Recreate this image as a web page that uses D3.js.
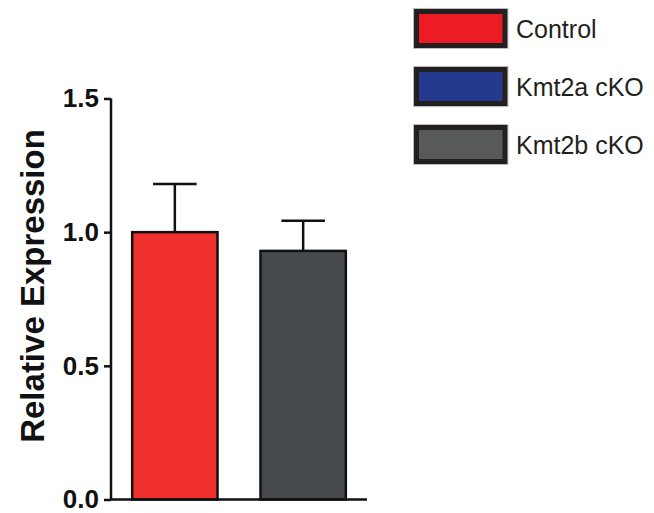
<!DOCTYPE html>
<html>
<head>
<meta charset="utf-8">
<script src="https://cdn.jsdelivr.net/npm/d3@7"></script>
<style>
  html, body { margin: 0; padding: 0; background: #fff; }
  svg { display: block; }
</style>
</head>
<body>
<svg id="chart" width="654" height="513"></svg>
<script>
// ---- data ----
const categories = ["Control", "Kmt2b cKO"];
const values = [1.0, 0.93];
const errors = [0.18, 0.113];
const barColors = ["#ee2f2c", "#464a4d"];
const legendLabels = ["Control", "Kmt2a cKO", "Kmt2b cKO"];
const legendColors = ["#ed1c24", "#253a8e", "#58595b"];
const yTicks = [0, 0.5, 1.0, 1.5];
const yTitle = "Relative Expression";

const svg = d3.select("#chart");

const x0 = 111, x1 = 367, yBottom = 499.5, yTop = 98.5;

const x = d3.scaleBand()
  .domain(categories)
  .range([x0, x1])
  .paddingInner(0.335)
  .paddingOuter(0.165);

const y = d3.scaleLinear().domain([0, 1.5]).range([yBottom, yTop]);

// bars
const data = categories.map((c, i) => ({ c, v: values[i], e: errors[i], col: barColors[i] }));

// error bars (drawn first so bar top covers the stem base)
const eb = svg.append("g").attr("stroke", "#111").attr("stroke-width", 2.5);
data.forEach(d => {
  const cx = x(d.c) + x.bandwidth() / 2;
  const capHalf = x.bandwidth() * 0.255;
  eb.append("line").attr("x1", cx).attr("x2", cx).attr("y1", y(d.v)).attr("y2", y(d.v + d.e));
  eb.append("line").attr("x1", cx - capHalf).attr("x2", cx + capHalf).attr("y1", y(d.v + d.e)).attr("y2", y(d.v + d.e));
});

svg.append("g").selectAll("rect").data(data).join("rect")
  .attr("x", d => x(d.c))
  .attr("width", x.bandwidth())
  .attr("y", d => y(d.v))
  .attr("height", d => y(0) - y(d.v))
  .attr("fill", d => d.col)
  .attr("stroke", "#111")
  .attr("stroke-width", 2.5);

// y axis
const yAxis = d3.axisLeft(y).tickValues(yTicks).tickFormat(d3.format(".1f")).tickSize(7).tickPadding(5);
const gy = svg.append("g").attr("transform", `translate(${x0},0)`).call(yAxis);
gy.select(".domain").attr("stroke", "#111").attr("stroke-width", 2.5).attr("d", `M0,${yTop}V${yBottom}`);
gy.selectAll(".tick line").attr("stroke", "#111").attr("stroke-width", 2.5);
gy.selectAll(".tick text")
  .attr("fill", "#111")
  .style("font-family", "'Liberation Sans', Arial, sans-serif")
  .style("font-weight", "bold")
  .style("font-size", "26px");

// x axis line
svg.append("line")
  .attr("x1", x0).attr("x2", x1)
  .attr("y1", yBottom).attr("y2", yBottom)
  .attr("stroke", "#111").attr("stroke-width", 2.5);

// y title
svg.append("text")
  .attr("transform", `translate(44,${(yTop + yBottom) / 2 - 13}) rotate(-90)`)
  .attr("text-anchor", "middle")
  .style("font-family", "'Liberation Sans', Arial, sans-serif")
  .style("font-weight", "bold")
  .style("font-size", "33px")
  .attr("fill", "#111")
  .text(yTitle);

// legend
const lg = svg.append("g");
legendLabels.forEach((lab, i) => {
  const top = 9 + i * 58;
  lg.append("rect")
    .attr("x", 413.5).attr("y", top - 0.5)
    .attr("width", 94.5).attr("height", 40)
    .attr("fill", "none").attr("stroke", "#bdbdbd").attr("stroke-width", 1);
  lg.append("rect")
    .attr("x", 416.5).attr("y", top + 2.5)
    .attr("width", 88.5).attr("height", 34)
    .attr("fill", legendColors[i])
    .attr("stroke", "#231f20").attr("stroke-width", 5);
  lg.append("text")
    .attr("x", 516).attr("y", top + 19.5 + 9)
    .style("font-family", "'Liberation Sans', Arial, sans-serif")
    .style("font-size", "25px")
    .attr("fill", "#231f20")
    .text(lab);
});
</script>
</body>
</html>
